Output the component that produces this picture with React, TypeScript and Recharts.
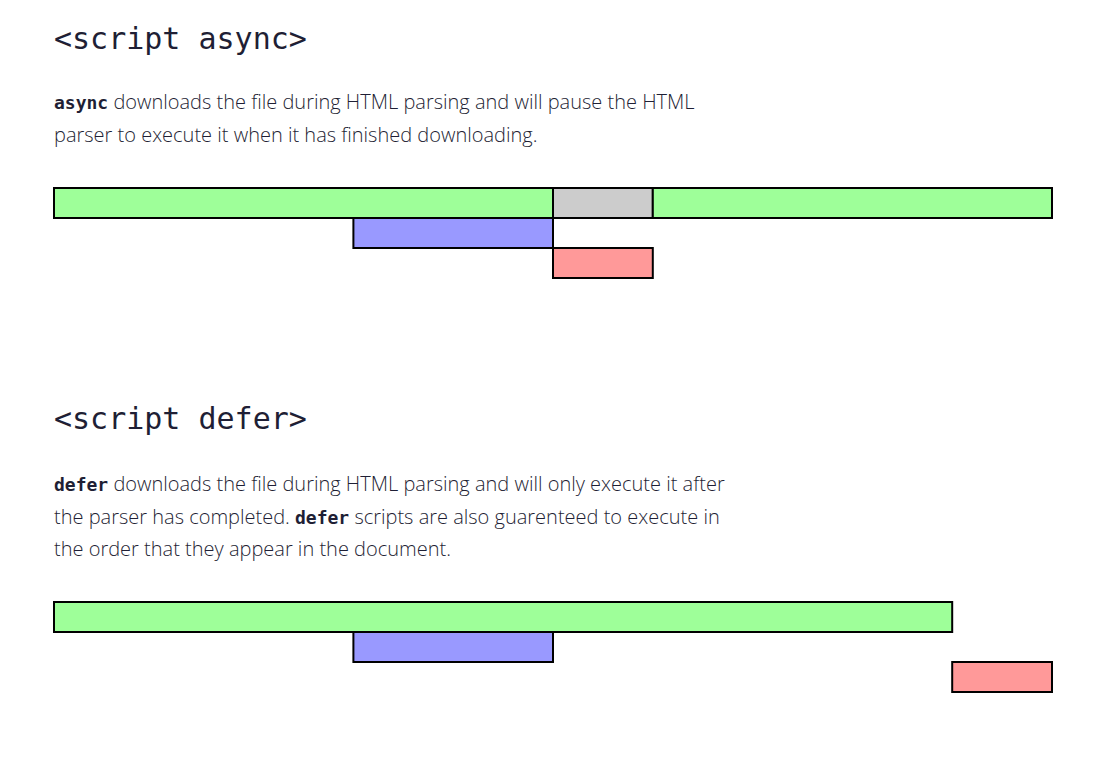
import React from 'react';
import { BarChart, Bar, XAxis, YAxis, Cell } from 'recharts';

// Rows of each timeline
const rows = ['parser', 'download', 'execute'];

// <script async> timeline: offset before the first segment, then consecutive segment lengths
const asyncOffset = [0, 3, 5];
const asyncSegA = [5, 2, 1];
const asyncSegB = [1, null, null];
const asyncSegC = [4, null, null];
const asyncColorsA = ['#9eff99', '#9999ff', '#ff9999'];
const asyncColorsB = ['#cccccc', '#cccccc', '#cccccc'];
const asyncColorsC = ['#9eff99', '#9eff99', '#9eff99'];

// <script defer> timeline
const deferOffset = [0, 3, 9];
const deferSegA = [9, 2, 1];
const deferColorsA = ['#9eff99', '#9999ff', '#ff9999'];

const timeTicks = [0, 10];

const asyncData = rows.map((r, i) => ({
  row: r,
  offset: asyncOffset[i],
  a: asyncSegA[i],
  b: asyncSegB[i],
  c: asyncSegC[i],
}));

const deferData = rows.map((r, i) => ({
  row: r,
  offset: deferOffset[i],
  a: deferSegA[i],
}));

const textColor = '#1f1f35';

const headingStyle: React.CSSProperties = {
  position: 'absolute',
  left: 54,
  margin: 0,
  fontFamily: '"DejaVu Sans Mono", monospace',
  fontWeight: 'normal',
  fontSize: 30,
  lineHeight: '36px',
  color: textColor,
  whiteSpace: 'nowrap',
};

const paraStyle: React.CSSProperties = {
  position: 'absolute',
  left: 54,
  margin: 0,
  fontFamily: '"Open Sans", sans-serif',
  fontWeight: 300,
  fontSize: 20,
  lineHeight: '32.5px',
  color: textColor,
  whiteSpace: 'nowrap',
};

const codeStyle: React.CSSProperties = {
  fontFamily: '"DejaVu Sans Mono", monospace',
  fontWeight: 'bold',
  fontSize: 18,
  lineHeight: '1',
};

function Timeline({ data, keys, colors, top }: { data: any[]; keys: string[]; colors: string[][]; top: number }) {
  return (
    <div style={{ position: 'absolute', left: 52, top: top - 2 }}>
      <BarChart
        width={1002}
        height={94}
        data={data}
        layout="vertical"
        barCategoryGap={0}
        margin={{ top: 2, right: 2, bottom: 2, left: 2 }}
      >
        <XAxis type="number" domain={[timeTicks[0], timeTicks[1]]} ticks={timeTicks} hide />
        <YAxis type="category" dataKey="row" hide />
        <Bar dataKey="offset" stackId="t" fill="transparent" isAnimationActive={false} />
        {keys.map((k, ki) => (
          <Bar key={k} dataKey={k} stackId="t" stroke="#000" strokeWidth={2} isAnimationActive={false}>
            {data.map((_, i) => (
              <Cell key={i} fill={colors[ki][i]} />
            ))}
          </Bar>
        ))}
      </BarChart>
    </div>
  );
}

export default function App() {
  return (
    <div style={{ position: 'absolute', left: 0, top: 0, width: 1093, height: 762, background: '#fff' }}>
      <h2 style={{ ...headingStyle, top: 21 }}>{'<script async>'}</h2>
      <p style={{ ...paraStyle, top: 86 }}>
        <span style={codeStyle}>async</span> downloads the file during HTML parsing and will pause the HTML
        <br />
        parser to execute it when it has finished downloading.
      </p>
      <Timeline
        data={asyncData}
        keys={['a', 'b', 'c']}
        colors={[asyncColorsA, asyncColorsB, asyncColorsC]}
        top={188}
      />

      <h2 style={{ ...headingStyle, top: 401 }}>{'<script defer>'}</h2>
      <p style={{ ...paraStyle, top: 468 }}>
        <span style={codeStyle}>defer</span> downloads the file during HTML parsing and will only execute it after
        <br />
        the parser has completed. <span style={codeStyle}>defer</span> scripts are also guarenteed to execute in
        <br />
        the order that they appear in the document.
      </p>
      <Timeline data={deferData} keys={['a']} colors={[deferColorsA]} top={602} />
    </div>
  );
}
